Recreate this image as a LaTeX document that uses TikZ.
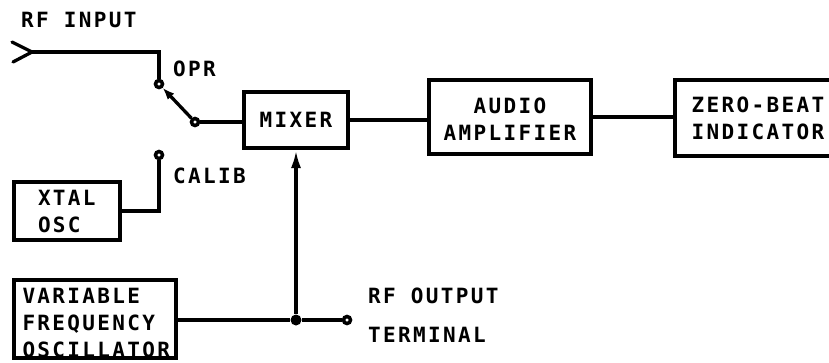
\documentclass[tikz,border=0pt]{standalone}
\usepackage{fontspec}
\usetikzlibrary{arrows.meta}
\newfontfamily\lblfam[LetterSpace=11.2]{DejaVu Sans Mono}
\newcommand\lblfont{\lblfam\bfseries\fontsize{21pt}{27pt}\selectfont}
\tikzset{
  blk/.style={draw, line width=4pt, inner sep=0pt, font=\lblfont, align=center},
  wire/.style={line width=3.3pt},
  contact/.style={circle, draw, line width=3.5pt, fill=white, minimum size=7pt, inner sep=0pt},
  txt/.style={font=\lblfont, inner sep=0pt, anchor=base west},
}
\begin{document}
\begin{tikzpicture}[x=1pt,y=-1pt]
\useasboundingbox (0,0) rectangle (829,362);
% blocks
\node[blk, minimum width=104pt, minimum height=56pt] (mixer) at (296,120) {MIXER};
\node[blk, minimum width=162pt, minimum height=74pt] (audio) at (510,117) {\rule{0pt}{19pt}AUDIO\\AMPLIFIER};
\node[blk, minimum width=166pt, minimum height=76pt] (zero) at (758,118) {ZERO-BEAT\\INDICATOR};
\node[blk, minimum width=106pt, minimum height=58pt, text width=58pt, align=left] (xtal) at (67,211) {XTAL\\OSC};
\node[blk, minimum width=162pt, minimum height=78pt, text width=145pt, align=left] (vfo) at (95,319) {\rule{0pt}{23pt}VARIABLE\\FREQUENCY\\OSCILLATOR};
% contacts
\coordinate (in) at (32,52);
\node[contact] (oprc) at (159,84) {};
\node[contact] (piv) at (195,122) {};
\node[contact] (calc) at (159,155) {};
\node[contact] (outc) at (347,320) {};
\node[circle, fill, minimum size=11pt, inner sep=0pt] (dot) at (296,320) {};
% labels
\node[txt] (rfin) at (21,27) {RF INPUT};
\node[txt] (opr) at (173,76) {OPR};
\node[txt] (calib) at (173,183) {CALIB};
\node[txt] (rfout) at (368,303) {RF OUTPUT};
\node[txt] (term) at (368,342) {TERMINAL};
% wires
\draw[wire, line cap=round, line join=round] (12,42) -- (in) -- (13,62);
\draw[wire] (in) -| (oprc);
\draw[wire, -{Latex[length=12pt,width=9pt]}] (piv) -- (oprc);
\draw[wire] (piv) -- (piv -| mixer.west);
\draw[wire] (mixer.east) -- (mixer.east -| audio.west);
\draw[wire] (audio.east) -- (audio.east -| zero.west);
\draw[wire] (calc) |- (xtal.east);
\draw[wire] (vfo.east |- dot) -- (dot) -- (outc);
\draw[wire, -{Latex[length=18pt,width=10pt]}] (dot) -- (mixer.south);
\end{tikzpicture}
\end{document}
